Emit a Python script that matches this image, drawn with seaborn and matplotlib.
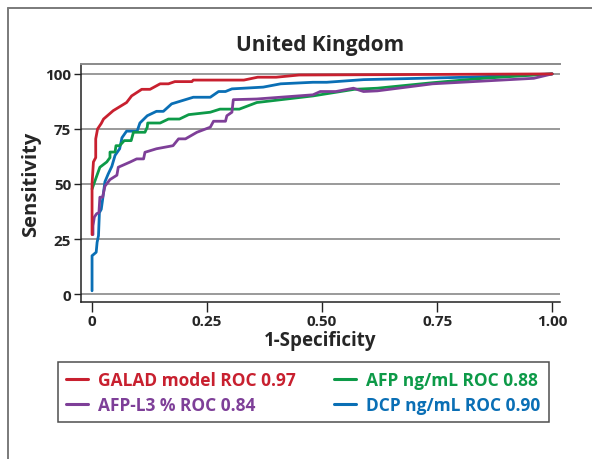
import numpy as np
import pandas as pd
import matplotlib
matplotlib.use("Agg")
import matplotlib.pyplot as plt
from matplotlib.lines import Line2D
import seaborn as sns

# ROC curve points (1-specificity, sensitivity %)
galad_fpr = [0.0, 0.0, 0.003, 0.008, 0.008, 0.012, 0.02, 0.025, 0.046, 0.075, 0.086,
             0.108, 0.126, 0.148, 0.166, 0.18, 0.217, 0.22, 0.33, 0.36, 0.40, 0.45, 1.0]
galad_sens = [27, 50, 60, 62, 70.5, 75, 77.5, 79.5, 83.3, 87, 90,
              93, 93, 95.5, 95.5, 96.5, 96.5, 97.2, 97.2, 98.5, 98.5, 99.5, 100]

afp_fpr = [0.0, 0.017, 0.032, 0.039, 0.039, 0.05, 0.052, 0.06, 0.07, 0.085, 0.09,
           0.115, 0.12, 0.121, 0.148, 0.166, 0.19, 0.21, 0.257, 0.278, 0.32, 0.358,
           0.48, 0.57, 0.62, 0.74, 0.85, 1.0]
afp_sens = [47.7, 57.6, 60, 62, 64.5, 64.5, 67.4, 67.4, 69.7, 69.7, 73.5,
            73.5, 75.8, 77.7, 77.7, 79.5, 79.5, 81.5, 82.6, 84, 84, 87,
            90, 93, 93.5, 96, 98, 100]

afpl3_fpr = [0.002, 0.002, 0.005, 0.01, 0.015, 0.017, 0.023, 0.028, 0.039, 0.054, 0.057,
             0.083, 0.097, 0.112, 0.115, 0.14, 0.176, 0.188, 0.203, 0.228, 0.257, 0.264,
             0.29, 0.293, 0.304, 0.307, 0.358, 0.48, 0.496, 0.53, 0.568, 0.59, 0.62,
             0.74, 0.96, 1.0]
afpl3_sens = [27, 31, 35, 36.5, 37, 44, 44, 49, 52, 54, 57.6,
              60, 61.4, 61.4, 64.4, 66, 67.4, 70.5, 70.5, 73.5, 75.8, 78.5,
              78.5, 81, 82.6, 88.3, 88.6, 90.5, 92, 92, 93.5, 92, 92.3,
              95.5, 98, 100]

dcp_fpr = [0.0, 0.0, 0.009, 0.011, 0.014, 0.016, 0.02, 0.023, 0.028, 0.035, 0.043,
           0.05, 0.06, 0.065, 0.075, 0.098, 0.104, 0.12, 0.14, 0.155, 0.173, 0.198,
           0.22, 0.257, 0.275, 0.29, 0.304, 0.372, 0.41, 0.48, 0.51, 0.59, 0.815, 1.0]
dcp_sens = [1.5, 17.4, 19, 23.5, 26.5, 37, 38.5, 43, 51, 54.5, 58,
            63, 66, 71, 74, 74, 77.7, 81, 83, 83, 86.4, 88,
            89.4, 89.4, 92, 92, 93.2, 94, 95.5, 96.2, 96.2, 97.4, 98.5, 100]

labels = ["GALAD model ROC 0.97", "AFP-L3 % ROC 0.84", "AFP ng/mL ROC 0.88", "DCP ng/mL ROC 0.90"]
colors = ["#c8202f", "#7e3f98", "#0d9a48", "#0a6fb5"]

frames = []
for lab, fx, sy in zip(labels, [galad_fpr, afpl3_fpr, afp_fpr, dcp_fpr],
                       [galad_sens, afpl3_sens, afp_sens, dcp_sens]):
    frames.append(pd.DataFrame({"fpr": fx, "sens": sy, "marker": lab, "order": np.arange(len(fx))}))
df = pd.concat(frames, ignore_index=True)

sns.set_theme(style="ticks")
plt.rcParams["font.family"] = ["Open Sans", "DejaVu Sans"]

fig = plt.figure(figsize=(5.92, 4.60), dpi=100)
ax = fig.add_axes([81 / 592, 1 - 303 / 460, (560 - 81) / 592, (303 - 65) / 460])

for y in [0, 25, 50, 75, 100]:
    ax.axhline(y, color="#9a9a9a", lw=1.4, zorder=0)

# draw so the GALAD line ends up on top, like the reference
draw_order = ["DCP ng/mL ROC 0.90", "AFP ng/mL ROC 0.88", "AFP-L3 % ROC 0.84", "GALAD model ROC 0.97"]
palette = dict(zip(labels, colors))
sns.lineplot(data=df, x="fpr", y="sens", hue="marker", hue_order=draw_order,
             palette=palette, sort=False, estimator=None, units="marker",
             lw=2.0, ax=ax, legend=False)

ax.set_xlim(-0.024, 1.017)
ax.set_ylim(-3.6, 104.5)
ax.set_xticks([0, 0.25, 0.5, 0.75, 1.0])
ax.set_xticklabels(["0", "0.25", "0.50", "0.75", "1.00"])
ax.set_yticks([0, 25, 50, 75, 100])
ax.set_yticklabels(["0", "25", "50", "75", "100"])
for t in ax.get_xticklabels() + ax.get_yticklabels():
    t.set_fontweight("bold")
    t.set_fontsize(11)
ax.tick_params(axis="x", length=7, width=1, color="#222", pad=2)
ax.tick_params(axis="y", length=5, width=1, color="#222", pad=2)

ax.spines["right"].set_visible(False)
ax.spines["top"].set_color("#8a8a8a")
ax.spines["top"].set_linewidth(1.4)
for s in ["left", "bottom"]:
    ax.spines[s].set_color("#222")
    ax.spines[s].set_linewidth(1.1)

ax.set_xlabel("1-Specificity", fontsize=13.5, fontweight="bold", labelpad=1)
ax.set_ylabel("Sensitivity", fontsize=14.5, fontweight="bold", labelpad=3)
ax.set_title("United Kingdom", fontsize=15, fontweight="bold", pad=10)

handles = [Line2D([0], [0], color=c, lw=2.2) for c in colors]
leg = fig.legend(handles, labels, ncol=2, loc="lower left", mode="expand",
                 bbox_to_anchor=(49 / 592, 28 / 460, 509 / 592, 64 / 460),
                 frameon=True, fancybox=False, edgecolor="#222", labelcolor="linecolor",
                 prop={"weight": "bold", "size": 12.5}, handlelength=1.25,
                 borderpad=0.5, labelspacing=0.4, columnspacing=1.0, handletextpad=0.6)
leg.get_frame().set_linewidth(1.1)

# outer panel border (left and top edges visible)
fig.add_artist(Line2D([8 / 592, 8 / 592], [0, 1 - 9 / 460], color="#7a7a7a", lw=1.4))
fig.add_artist(Line2D([8 / 592, 1], [1 - 9 / 460, 1 - 9 / 460], color="#7a7a7a", lw=1.4))

fig.savefig("out.png", dpi=100)
